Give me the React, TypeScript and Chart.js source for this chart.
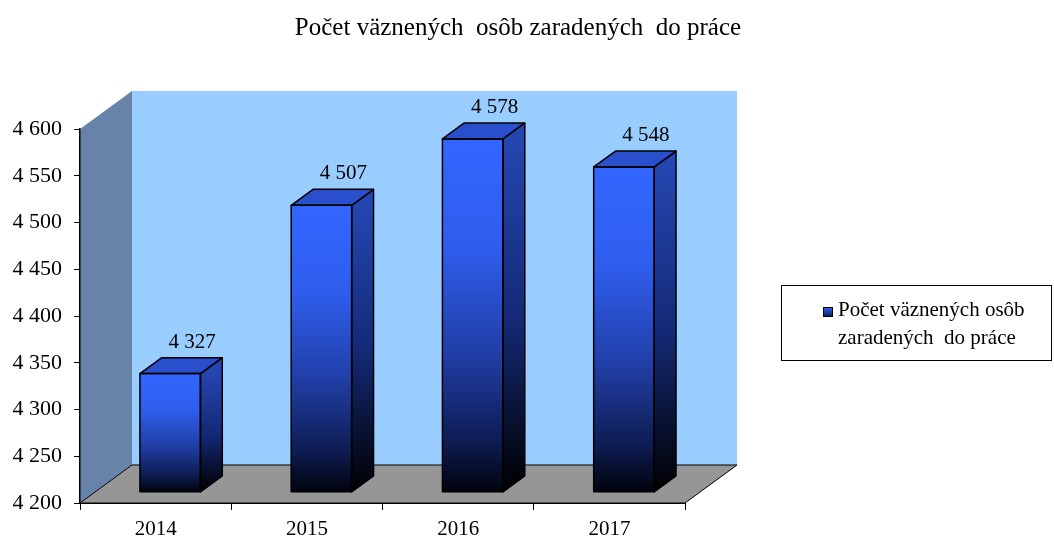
import React, { useEffect, useRef } from "react";
import { Chart, registerables } from "chart.js";

Chart.register(...registerables);

const categories = ["2014", "2015", "2016", "2017"];
const values = [4327, 4507, 4578, 4548];
const yMin = 4200;
const yMax = 4600;
const yStep = 50;
const seriesName = "Počet väznených osôb zaradených  do práce";
const titleText = "Počet väznených  osôb zaradených  do práce";
const legendLines = ["Počet väznených osôb", "zaradených  do práce"];

const FONT = "'Liberation Serif', 'Times New Roman', serif";
const fmt = (v: number) => String(v).replace(/\B(?=(\d{3})+(?!\d))/g, " ");

// 3D geometry (depth vector of the floor, bar position in depth)
const DEPTH = { x: 52, y: -38 };
const FRONT_F = 0.28;
const BACK_F = 0.7;

const threeD = {
  id: "threeD",
  beforeDraw(chart: any) {
    const { ctx, chartArea: a } = chart;
    const dx = DEPTH.x, dy = DEPTH.y;
    ctx.save();
    // back wall
    ctx.fillStyle = "#99ccff";
    ctx.fillRect(a.left + dx, a.top + dy, a.right - a.left, a.bottom - a.top);
    // left wall
    ctx.fillStyle = "#6783a8";
    ctx.beginPath();
    ctx.moveTo(a.left, a.top);
    ctx.lineTo(a.left + dx, a.top + dy);
    ctx.lineTo(a.left + dx, a.bottom + dy);
    ctx.lineTo(a.left, a.bottom);
    ctx.closePath();
    ctx.fill();
    // floor
    ctx.fillStyle = "#969696";
    ctx.strokeStyle = "#000";
    ctx.lineWidth = 1;
    ctx.beginPath();
    ctx.moveTo(a.left, a.bottom);
    ctx.lineTo(a.left + dx, a.bottom + dy);
    ctx.lineTo(a.right + dx, a.bottom + dy);
    ctx.lineTo(a.right, a.bottom);
    ctx.closePath();
    ctx.fill();
    ctx.stroke();
    ctx.restore();
  },
  beforeDatasetsDraw(chart: any) {
    const { ctx } = chart;
    ctx.save();
    ctx.translate(DEPTH.x * FRONT_F, DEPTH.y * FRONT_F);
  },
  afterDatasetsDraw(chart: any) {
    const { ctx } = chart;
    const meta = chart.getDatasetMeta(0);
    const bdx = DEPTH.x * (BACK_F - FRONT_F);
    const bdy = DEPTH.y * (BACK_F - FRONT_F);
    meta.data.forEach((bar: any, i: number) => {
      const { x, y, base, width } = bar.getProps(["x", "y", "base", "width"], true);
      const l = x - width / 2;
      const r = x + width / 2;
      ctx.lineWidth = 1.5;
      ctx.strokeStyle = "#000";
      ctx.lineJoin = "round";
      // side face
      const sg = ctx.createLinearGradient(0, y, 0, base);
      sg.addColorStop(0, "#2446b0");
      sg.addColorStop(0.5, "#142a78");
      sg.addColorStop(1, "#000000");
      ctx.fillStyle = sg;
      ctx.beginPath();
      ctx.moveTo(r, y);
      ctx.lineTo(r + bdx, y + bdy);
      ctx.lineTo(r + bdx, base + bdy);
      ctx.lineTo(r, base);
      ctx.closePath();
      ctx.fill();
      ctx.stroke();
      // top face
      ctx.fillStyle = "#2a4fcc";
      ctx.beginPath();
      ctx.moveTo(l, y);
      ctx.lineTo(l + bdx, y + bdy);
      ctx.lineTo(r + bdx, y + bdy);
      ctx.lineTo(r, y);
      ctx.closePath();
      ctx.fill();
      ctx.stroke();
      // front outline
      ctx.strokeRect(l, y, width, base - y);
      // data label
      ctx.fillStyle = "#000";
      ctx.font = `21px ${FONT}`;
      ctx.textAlign = "center";
      ctx.textBaseline = "alphabetic";
      ctx.fillText(fmt(values[i]), x + bdx, y + bdy - 10);
    });
    ctx.restore();
  },
  afterDraw(chart: any) {
    const { ctx } = chart;
    ctx.save();
    // title
    ctx.fillStyle = "#000";
    ctx.font = `25px ${FONT}`;
    ctx.textAlign = "center";
    ctx.textBaseline = "middle";
    ctx.fillText(titleText, 518, 28);
    // legend
    ctx.strokeStyle = "#000";
    ctx.lineWidth = 1;
    ctx.strokeRect(781.5, 285.5, 270, 75);
    const mg = ctx.createLinearGradient(0, 307, 0, 317);
    mg.addColorStop(0, "#3366ff");
    mg.addColorStop(1, "#0a1a50");
    ctx.fillStyle = mg;
    ctx.fillRect(823, 307, 10, 10);
    ctx.strokeRect(823.5, 307.5, 9, 9);
    ctx.fillStyle = "#000";
    ctx.font = `21px ${FONT}`;
    ctx.textAlign = "left";
    ctx.fillText(legendLines[0], 838, 310);
    ctx.fillText(legendLines[1], 838, 338);
    ctx.restore();
  },
};

export default function App() {
  const ref = useRef<HTMLCanvasElement>(null);
  useEffect(() => {
    if (!ref.current) return;
    const chart = new Chart(ref.current, {
      type: "bar",
      data: {
        labels: categories,
        datasets: [
          {
            label: seriesName,
            data: values,
            base: yMin,
            clip: false,
            barPercentage: 0.4,
            categoryPercentage: 1,
            borderWidth: 0,
            backgroundColor: (c: any) => {
              const chart = c.chart;
              const ys = chart.scales && chart.scales.y;
              if (!ys || !chart.chartArea) return "#3366ff";
              const top = ys.getPixelForValue(values[c.dataIndex]);
              const bot = ys.getPixelForValue(yMin);
              if (!isFinite(top) || !isFinite(bot) || top === bot) return "#3366ff";
              const g = chart.ctx.createLinearGradient(0, top, 0, bot);
              g.addColorStop(0, "#3366ff");
              g.addColorStop(0.3, "#2f5eee");
              g.addColorStop(0.6, "#213fa8");
              g.addColorStop(0.85, "#0f1d55");
              g.addColorStop(1, "#00030c");
              return g;
            },
          } as any,
        ],
      },
      options: {
        animation: false,
        responsive: true,
        maintainAspectRatio: false,
        layout: { padding: { left: 0, top: 129, right: 369, bottom: 0 } },
        plugins: { legend: { display: false }, tooltip: { enabled: false }, title: { display: false } },
        scales: {
          x: {
            offset: true,
            grid: { drawOnChartArea: false, offset: true, tickLength: 7, color: "#000" },
            border: { color: "#000", width: 1 },
            ticks: { color: "#000", font: { family: FONT, size: 21 }, padding: 7 },
            afterFit: (s: any) => { s.height = 37; },
          },
          y: {
            min: yMin,
            max: yMax,
            grid: { drawOnChartArea: false, tickLength: 6, color: "#000" },
            border: { color: "#000", width: 1.5 },
            ticks: {
              stepSize: yStep,
              color: "#000",
              font: { family: FONT, size: 22 },
              padding: 12,
              callback: (v: any) => fmt(Number(v)),
            },
            afterFit: (s: any) => { s.width = 80; },
          },
        },
      },
      plugins: [threeD],
    });
    return () => chart.destroy();
  }, []);
  return (
    <div style={{ position: "absolute", left: 0, top: 0, width: 1054, height: 540, background: "#fff" }}>
      <canvas ref={ref} />
    </div>
  );
}
